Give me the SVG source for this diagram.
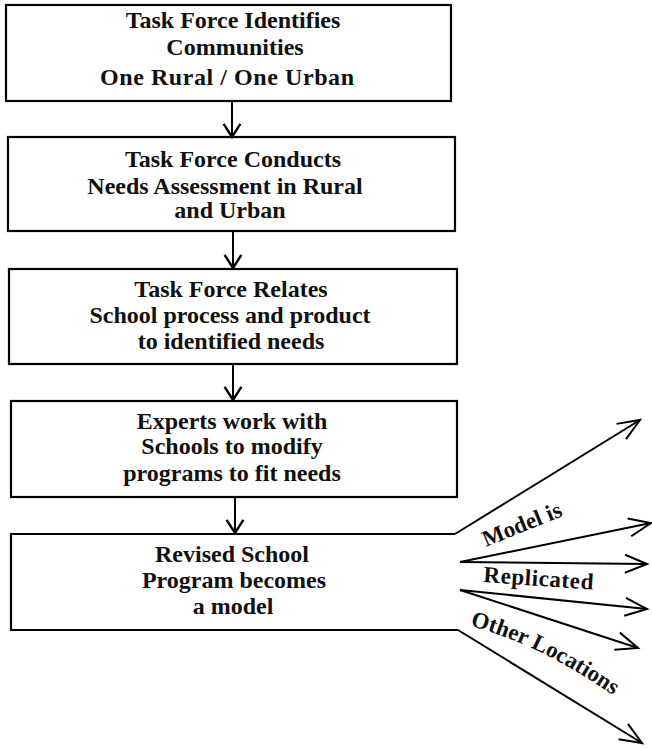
<svg xmlns="http://www.w3.org/2000/svg" width="652" height="748" viewBox="0 0 652 748">
<style>
.box{fill:none;stroke:#000;stroke-width:2.2}
.ln{fill:none;stroke:#000;stroke-width:2}
.t{font-family:"Liberation Serif","Times New Roman",serif;font-weight:bold;font-size:24px;fill:#111;text-anchor:middle}
.lb{font-family:"Liberation Serif","Times New Roman",serif;font-weight:bold;font-size:23px;fill:#111}
</style>
<defs>
<marker id="ah" markerUnits="userSpaceOnUse" markerWidth="24" markerHeight="24" refX="0" refY="0" viewBox="-14 -10 16 20" orient="auto">
<path d="M-11,-7 L0,0 L-11,7" fill="none" stroke="#000" stroke-width="2"/>
</marker>
<marker id="big" markerUnits="userSpaceOnUse" markerWidth="30" markerHeight="24" refX="0" refY="0" viewBox="-25 -12 28 24" orient="auto">
<path d="M-22,-9 L0,0 L-22,9" fill="none" stroke="#000" stroke-width="2"/>
</marker>
<path id="olPath" d="M470,626 Q545,645 628,706"/>
</defs>

<g id="n1">
<rect class="box" x="6" y="5" width="445" height="96"/>
<text class="t" x="233" y="28">Task Force Identifies</text>
<text class="t" x="235" y="55">Communities</text>
<text class="t" x="227" y="85" textLength="254">One Rural / One Urban</text>
</g>
<g id="n2">
<rect class="box" x="8" y="137" width="447" height="94"/>
<text class="t" x="233" y="167">Task Force Conducts</text>
<text class="t" x="225" y="194">Needs Assessment in Rural</text>
<text class="t" x="230" y="218">and Urban</text>
</g>
<g id="n3">
<rect class="box" x="9" y="269" width="448" height="95"/>
<text class="t" x="231" y="297">Task Force Relates</text>
<text class="t" x="230" y="323">School process and product</text>
<text class="t" x="231" y="349">to identified needs</text>
</g>
<g id="n4">
<rect class="box" x="11" y="401" width="446" height="96"/>
<text class="t" x="232" y="429">Experts work with</text>
<text class="t" x="232" y="454">Schools to modify</text>
<text class="t" x="232" y="481">programs to fit needs</text>
</g>
<g id="n5">
<path class="box" d="M455,534 L11,534 L11,630 L458,630"/>
<text class="t" x="232" y="562">Revised School</text>
<text class="t" x="234" y="588">Program becomes</text>
<text class="t" x="233" y="614">a model</text>
</g>

<g id="connectors">
<line class="ln" x1="232" y1="101" x2="232" y2="137" marker-end="url(#ah)"/>
<line class="ln" x1="233" y1="231" x2="233" y2="268" marker-end="url(#ah)"/>
<line class="ln" x1="233" y1="364" x2="233" y2="400" marker-end="url(#ah)"/>
<line class="ln" x1="235" y1="497" x2="235" y2="533" marker-end="url(#ah)"/>
<line class="ln" x1="455" y1="534" x2="640" y2="420" marker-end="url(#big)"/>
<line class="ln" x1="460" y1="562" x2="651" y2="523" marker-end="url(#big)"/>
<line class="ln" x1="460" y1="562" x2="647" y2="564" marker-end="url(#big)"/>
<line class="ln" x1="460" y1="590" x2="647" y2="609" marker-end="url(#big)"/>
<line class="ln" x1="460" y1="590" x2="638" y2="648" marker-end="url(#big)"/>
<line class="ln" x1="458" y1="630" x2="642" y2="743" marker-end="url(#big)"/>
</g>

<g id="labels">
<text class="lb" transform="translate(486,547) rotate(-22)">Model is</text>
<text class="lb" transform="translate(483,582) rotate(4)" letter-spacing="0.6">Replicated</text>
<text class="lb" font-size="24"><textPath href="#olPath">Other Locations</textPath></text>
</g>
</svg>
